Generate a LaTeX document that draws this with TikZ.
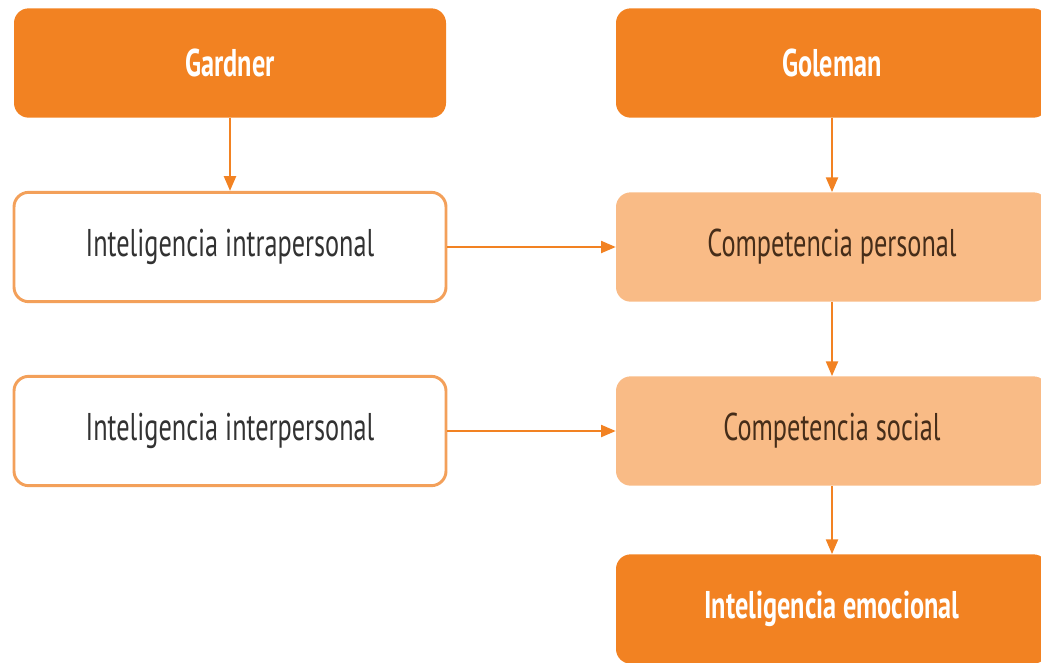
\documentclass[tikz,border=0pt]{standalone}
\usepackage{fontspec}
\setmainfont{PT Sans}[FakeStretch=0.68]
\usetikzlibrary{arrows.meta}
\definecolor{darkorange}{RGB}{242,130,34}
\definecolor{lightorange}{RGB}{249,187,134}
\definecolor{edgeorange}{RGB}{243,160,90}
\definecolor{boxtext}{RGB}{50,50,50}
\definecolor{browntext}{RGB}{70,45,25}
\tikzset{
	box/.style={rounded corners=11pt, minimum width=324pt, minimum height=82pt, font=\fontsize{29}{33}\selectfont, inner sep=0pt},
	headbox/.style={box, fill=darkorange, text=white, font=\fontsize{29}{33}\selectfont\bfseries},
	whitebox/.style={box, draw=edgeorange, line width=2.2pt, fill=white, text=boxtext},
	softbox/.style={box, fill=lightorange, text=browntext},
	link/.style={draw=darkorange, line width=1.5pt, -{Triangle[width=9pt,length=11pt]}}
}
\begin{document}
\begin{tikzpicture}[x=0.75pt, y=-0.75pt]
		%%%%% START %%%%%
		\useasboundingbox (0,0) rectangle (1041,662);
		\clip (0,0) rectangle (1041,662);
		
		\node[headbox] (gardner) at (230,63) {Gardner};
		\node[whitebox] (intra) at (230,247) {Inteligencia intrapersonal};
		\node[whitebox] (inter) at (230,431) {Inteligencia interpersonal};
		
		\node[headbox] (goleman) at (832,63) {Goleman};
		\node[softbox] (personal) at (832,247) {Competencia personal};
		\node[softbox] (social) at (832,431) {Competencia social};
		\node[headbox] (emocional) at (832,609) {Inteligencia emocional};
		
		\draw[link] (gardner) -- (intra);
		\draw[link] (goleman) -- (personal);
		\draw[link] (personal) -- (social);
		\draw[link] (social) -- (emocional);
		\draw[link] (intra) -- (personal);
		\draw[link] (inter) -- (social);
		
		%%%%% END %%%%%
\end{tikzpicture}
\end{document}
